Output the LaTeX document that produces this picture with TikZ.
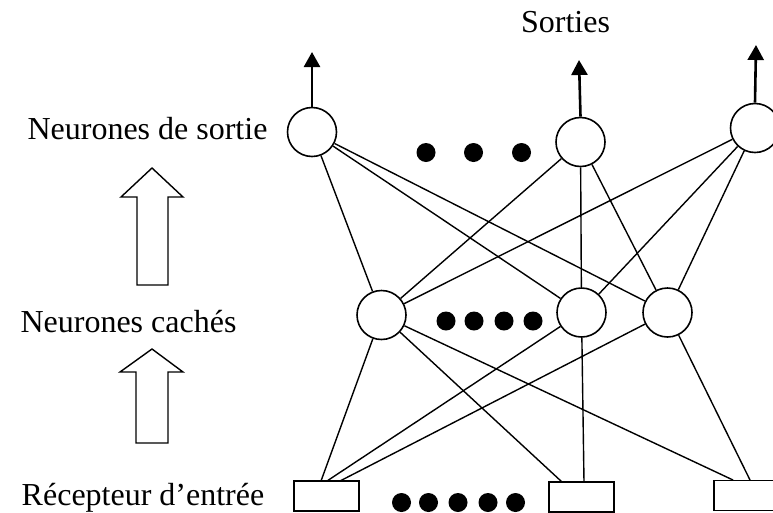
\documentclass[tikz,border=0pt]{standalone}
\usepackage{fontspec}
\setmainfont{Liberation Serif}
\usetikzlibrary{arrows.meta}
\begin{document}
\begin{tikzpicture}[x=1pt,y=-1pt,
 neuron/.style={circle,draw,line width=1.6pt,minimum size=49pt,inner sep=0pt},
 recep/.style={rectangle,draw,line width=1.6pt,minimum width=65pt,minimum height=30pt,inner sep=0pt},
 dotnode/.style={circle,fill,inner sep=0pt,minimum size=19pt},
 conn/.style={line width=1.4pt},
 outarr/.style={line width=2.6pt,-{Triangle[width=16pt,length=15pt]}},
 bigarrow/.style={line width=1.4pt,line join=miter},
 lbl/.style={font=\fontsize{32}{38}\selectfont,anchor=base,inner sep=0pt}]
\useasboundingbox (0,0) rectangle (773,512);

% labels
\node[lbl] (tsort) at (565.5,32) {Sorties};
\node[lbl] (tout) at (147.5,139) {Neurones de sortie};
\node[lbl] (thid) at (128.5,332) {Neurones cachés};
\node[lbl] (tin) at (143,505) {Récepteur d’entrée};

% block arrows
\draw[bigarrow] (152,168) -- (183,197) -- (168,197) -- (168,285) -- (137,285) -- (137,197) -- (121,197) -- cycle;
\draw[bigarrow] (152,349) -- (183,372) -- (168,372) -- (168,443) -- (136,443) -- (136,372) -- (120,372) -- cycle;

% output neurons
\node[neuron] (o1) at (312,132) {};
\node[neuron] (o2) at (580.5,142) {};
\node[neuron] (o3) at (755,128) {};

% hidden neurons
\node[neuron] (h1) at (381.5,315) {};
\node[neuron] (h2) at (581.5,312.5) {};
\node[neuron] (h3) at (667.5,312.5) {};

% receptors
\node[recep] (s1) at (326.5,496) {};
\node[recep] (s2) at (581.5,497) {};
\node[recep] (s3) at (746.5,495.5) {};

% dots
\node[dotnode] (a1) at (426,152.5) {};
\node[dotnode] (a2) at (473.5,152.5) {};
\node[dotnode] (a3) at (521.5,152.5) {};
\node[dotnode] (b1) at (446,321) {};
\node[dotnode] (b2) at (474,321) {};
\node[dotnode] (b3) at (504,321) {};
\node[dotnode] (b4) at (533,321) {};
\node[dotnode] (c1) at (401.5,502.5) {};
\node[dotnode] (c2) at (428.5,502.5) {};
\node[dotnode] (c3) at (458,502.5) {};
\node[dotnode] (c4) at (488,502.5) {};
\node[dotnode] (c5) at (515.5,502.5) {};

% output arrows
\coordinate (e1) at (312,52);
\coordinate (e2) at (579,60);
\coordinate (e3) at (756,45);
\draw[outarr] (o1.north) -- (e1);
\draw[outarr] (o2.north) -- (e2);
\draw[outarr] (o3.north) -- (e3);

% output - hidden connections
\foreach \o in {o1,o2,o3}
  \foreach \h in {h1,h2,h3}
    \draw[conn] (\o) -- (\h);

% hidden - receptor connections
\coordinate (p11) at (321,481);
\coordinate (p21) at (327,481);
\coordinate (p31) at (340,481);
\coordinate (p12) at (562,482);
\coordinate (p22) at (584,482);
\coordinate (p13) at (733,480);
\coordinate (p33) at (750,480);
\draw[conn] (h1) -- (p11);
\draw[conn] (h2) -- (p21);
\draw[conn] (h3) -- (p31);
\draw[conn] (h1) -- (p12);
\draw[conn] (h2) -- (p22);
\draw[conn] (h1) -- (p13);
\draw[conn] (h3) -- (p33);
\end{tikzpicture}
\end{document}
